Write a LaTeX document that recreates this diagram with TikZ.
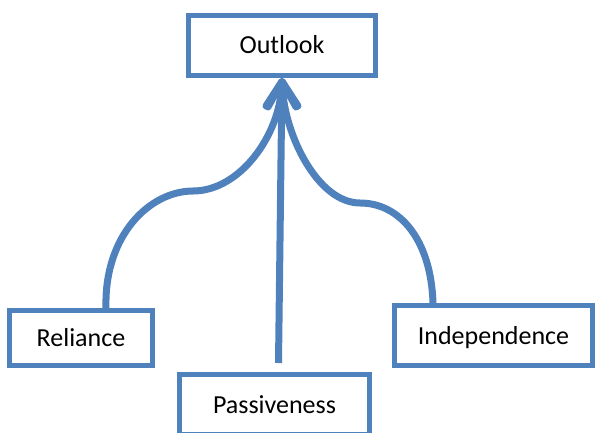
\documentclass[tikz,border=0pt]{standalone}
\usepackage{fontspec}
\setmainfont{Carlito}
\usetikzlibrary{arrows.meta}
\definecolor{boxblue}{HTML}{4F81BD}

\begin{document}
\begin{tikzpicture}[x=1pt, y=-1pt,
    box/.style={draw=boxblue, line width=5pt, inner sep=0pt, text height=17pt, text depth=0pt, font=\fontsize{26}{31}\selectfont},
    link/.style={draw=boxblue, line width=7pt, -{Straight Barb[round, length=25pt, width=30pt]}}]
    \useasboundingbox (0,0) rectangle (595,433);
    \node[box, minimum width=187pt, minimum height=60pt] (outlook) at (282,45.5) {Outlook};
    \node[box, minimum width=143pt, minimum height=55pt] (reliance) at (81,338) {Reliance};
    \node[box, minimum width=198pt, minimum height=60pt] (independence) at (493.5,335.5) {Independence};
    \node[box, minimum width=190pt, minimum height=60pt] (passiveness) at (274.5,404.5) {Passiveness};
    \draw[link] ([xshift=25pt]reliance.north) .. controls (104,235) and (150,191) .. (193,191)
        .. controls (240,191) and (280,135) .. (outlook.south);
    \draw[link] ([xshift=-60.5pt]independence.north) .. controls (431,240) and (400,203) .. (360,203)
        .. controls (318,203) and (284,135) .. (outlook.south);
    \draw[link] ([xshift=4pt,yshift=9pt]passiveness.north) -- (outlook.south);
\end{tikzpicture}
\end{document}
